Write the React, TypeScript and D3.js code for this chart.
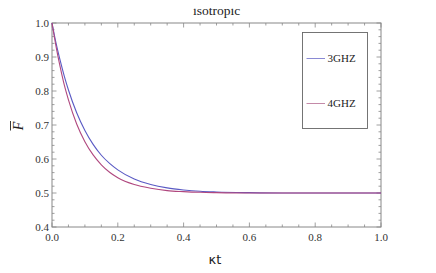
import React from 'react';
import * as d3 from 'd3';

const kappaT = [0, 0.0125, 0.025, 0.0375, 0.05, 0.075, 0.1, 0.125, 0.15, 0.175, 0.2, 0.25, 0.3, 0.35, 0.4, 0.45, 0.5, 0.6, 0.7, 0.8, 0.9, 1.0];
const ghz3 = [1.0, 0.94, 0.889, 0.843, 0.803, 0.736, 0.684, 0.643, 0.611, 0.587, 0.568, 0.541, 0.525, 0.515, 0.509, 0.505, 0.503, 0.501, 0.5, 0.5, 0.5, 0.5];
const ghz4 = [1.0, 0.93, 0.870, 0.817, 0.774, 0.703, 0.651, 0.612, 0.583, 0.561, 0.545, 0.525, 0.514, 0.507, 0.504, 0.502, 0.501, 0.5, 0.5, 0.5, 0.5, 0.5];
const xTicks = [0, 0.2, 0.4, 0.6, 0.8, 1.0];
const yTicks = [0.4, 0.5, 0.6, 0.7, 0.8, 0.9, 1.0];
const seriesNames = ['3GHZ', '4GHZ'];

const W = 436;
const H = 273;
const M = { left: 52, right: 55, top: 23, bottom: 46 };
const font = "'Liberation Serif', 'Times New Roman', Times, serif";
const frame = '#888';

export default function App() {
  const ref = React.useRef<SVGSVGElement>(null);

  React.useEffect(() => {
    const svg = d3.select(ref.current);
    svg.selectAll('*').remove();

    const x = d3.scaleLinear([0, 1], [M.left, W - M.right]);
    const y = d3.scaleLinear([0.4, 1.0], [H - M.bottom, M.top]);
    const x0 = x.range()[0], x1 = x.range()[1];
    const y0 = y.range()[0], y1 = y.range()[1];

    // frame
    svg.append('rect')
      .attr('x', x0).attr('y', y1)
      .attr('width', x1 - x0).attr('height', y0 - y1)
      .attr('fill', 'none').attr('stroke', frame).attr('stroke-width', 1);

    // ticks on all four sides, pointing inward
    const xMinor = d3.range(0, 1.0001, 0.05);
    const yMinor = d3.range(0.4, 1.0001, 0.02);
    const isMajor = (v: number, list: number[]) => list.some((t) => Math.abs(t - v) < 1e-6);
    const g = svg.append('g').attr('stroke', frame).attr('stroke-width', 0.8);
    xMinor.forEach((v) => {
      const len = isMajor(v, xTicks) ? 4.5 : 2.5;
      g.append('line').attr('x1', x(v)).attr('x2', x(v)).attr('y1', y0).attr('y2', y0 - len);
      g.append('line').attr('x1', x(v)).attr('x2', x(v)).attr('y1', y1).attr('y2', y1 + len);
    });
    yMinor.forEach((v) => {
      const len = isMajor(v, yTicks) ? 4.5 : 2.5;
      g.append('line').attr('y1', y(v)).attr('y2', y(v)).attr('x1', x0).attr('x2', x0 + len);
      g.append('line').attr('y1', y(v)).attr('y2', y(v)).attr('x1', x1).attr('x2', x1 - len);
    });

    svg.selectAll('.xl').data(xTicks).enter().append('text')
      .attr('x', (d) => x(d)).attr('y', y0 + 14)
      .attr('text-anchor', 'middle')
      .style('font-family', font).attr('font-size', 11).attr('fill', '#333')
      .text((d) => d.toFixed(1));
    svg.selectAll('.yl').data(yTicks).enter().append('text')
      .attr('x', x0 - 3).attr('y', (d) => y(d) + 3.5)
      .attr('text-anchor', 'end')
      .style('font-family', font).attr('font-size', 11).attr('fill', '#333')
      .text((d) => d.toFixed(1));

    // curves
    const line = d3.line<number>()
      .x((_, i) => x(kappaT[i]))
      .y((d) => y(d))
      .curve(d3.curveMonotoneX);
    const colors = ['#5a5ac4', '#b0487f'];
    [ghz3, ghz4].forEach((s, i) => {
      svg.append('path').attr('d', line(s)).attr('fill', 'none')
        .attr('stroke', colors[i]).attr('stroke-width', 1.1);
    });

    // legend
    const lg = svg.append('g');
    lg.append('rect').attr('x', 302.5).attr('y', 32.5).attr('width', 65).attr('height', 96)
      .attr('fill', 'white').attr('stroke', '#666').attr('stroke-width', 0.9);
    const legendColors = ['#8a8ad4', '#c48aa8'];
    seriesNames.forEach((n, i) => {
      const ly = 58.5 + i * 45;
      lg.append('line').attr('x1', 306.5).attr('x2', 325).attr('y1', ly).attr('y2', ly)
        .attr('stroke', legendColors[i]).attr('stroke-width', 1);
      lg.append('text').attr('x', 327.5).attr('y', ly + 3.5)
        .style('font-family', font).attr('font-size', 11).attr('fill', '#222').text(n);
    });

    // titles
    svg.append('text').attr('x', (x0 + x1) / 2).attr('y', 15)
      .attr('text-anchor', 'middle').style('font-family', font).attr('font-size', 13.5)
      .attr('fill', '#222').text('isotropic');
    svg.append('text').attr('x', 215).attr('y', 264)
      .attr('text-anchor', 'middle').style('font-family', "'DejaVu Sans', sans-serif").attr('font-size', 13)
      .attr('fill', '#222').text('κt');
    const yl = svg.append('g').attr('transform', 'translate(23,126) rotate(-90)');
    yl.append('text').attr('x', 0).attr('y', 0).attr('text-anchor', 'middle')
      .style('font-family', font).attr('font-style', 'italic').attr('font-size', 14)
      .attr('fill', '#222').text('F');
    yl.append('line').attr('x1', -4.5).attr('x2', 5).attr('y1', -12.5).attr('y2', -12.5)
      .attr('stroke', '#222').attr('stroke-width', 0.9);
  }, []);

  return (
    <div style={{ margin: -8 }}>
      <svg ref={ref} width={W} height={H} style={{ display: 'block', background: 'white' }} />
    </div>
  );
}
